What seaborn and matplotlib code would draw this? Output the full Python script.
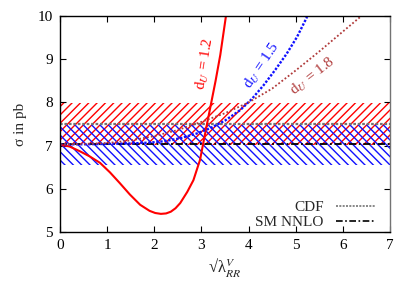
import seaborn as sns
import matplotlib
matplotlib.use("Agg")
from matplotlib import pyplot as plt
from matplotlib.lines import Line2D

# measurement bands (sigma in pb)
band_x = [0, 7]
cdf_value = 7.5
cdf_lo = [7.02, 7.02]
cdf_hi = [7.98, 7.98]
sm_value = 7.03
sm_lo = [6.56, 6.56]
sm_hi = [7.47, 7.47]

# d_U = 1.2
x_12 = [0, 0.2, 0.42, 0.63, 0.85, 1.06, 1.27, 1.48, 1.7, 1.9, 2.02, 2.14, 2.25, 2.35, 2.45,
        2.55, 2.7, 2.83, 2.97, 3.1, 3.2, 3.3, 3.4, 3.52]
y_12 = [7.02, 6.98, 6.87, 6.75, 6.6, 6.38, 6.13, 5.87, 5.63, 5.49, 5.44, 5.42, 5.43, 5.47, 5.55,
        5.67, 5.93, 6.2, 6.67, 7.4, 7.95, 8.5, 9.1, 10.0]
# d_U = 1.5
x_15 = [0, 0.5, 1.0, 1.5, 1.91, 2.2, 2.55, 2.9, 3.18, 3.5, 3.82, 4.07, 4.32, 4.57, 4.81, 5.03, 5.24]
y_15 = [7.03, 7.03, 7.04, 7.05, 7.07, 7.1, 7.17, 7.28, 7.4, 7.58, 7.82, 8.08, 8.4, 8.76, 9.13, 9.52, 9.98]
# d_U = 1.8
x_18 = [0, 0.5, 1.0, 1.5, 2.0, 2.5, 3.0, 3.5, 4.0, 4.5, 5.0, 5.5, 6.0, 6.37]
y_18 = [7.03, 7.04, 7.06, 7.12, 7.22, 7.36, 7.55, 7.75, 8.0, 8.32, 8.74, 9.18, 9.64, 9.98]

sns.set_style("ticks")
plt.rcParams["font.family"] = ["Liberation Serif", "DejaVu Serif"]
plt.rcParams["mathtext.fontset"] = "stix"
plt.rcParams["hatch.linewidth"] = 1.0

red = "#ff0000"
blue = "#1010ff"
brown = "#b03a3a"
fs = 11

fig = plt.figure(figsize=(4.15, 2.91), dpi=100)
ax = fig.add_axes([0.1446, 0.2027, 0.7952, 0.7423])

# hatched bands
ax.fill_between(band_x, cdf_lo, cdf_hi, facecolor="none", edgecolor=red, hatch="////", linewidth=0)
ax.fill_between(band_x, sm_lo, sm_hi, facecolor="none", edgecolor=blue, hatch="\\\\\\\\", linewidth=0)

ax.axhline(cdf_value, color="0.45", lw=1.6, ls=(0, (1.2, 0.8)))
ax.axhline(sm_value, color="black", lw=1.3, ls=(0, (4, 1.5, 1, 1.5)))

sns.lineplot(x=x_12, y=y_12, ax=ax, color=red, lw=1.5)
sns.lineplot(x=x_15, y=y_15, ax=ax, color=blue, lw=1.7, ls=(0, (1, 0.7)))
sns.lineplot(x=x_18, y=y_18, ax=ax, color=brown, lw=1.3, ls=(0, (1, 1.2)))

ax.text(3.07, 8.9, r"d$_U$ = 1.2", color=red, rotation=81, fontsize=fs,
        ha="center", va="center")
ax.text(4.28, 8.85, r"d$_U$ = 1.5", color=blue, rotation=56, fontsize=fs,
        ha="center", va="center")
ax.text(5.36, 8.6, r"d$_U$ = 1.8", color=brown, rotation=38, fontsize=fs,
        ha="center", va="center")

ax.set_xlim(0, 7)
ax.set_ylim(5, 10)
ax.set_xticks(range(0, 8))
ax.set_yticks(range(5, 11))
ax.tick_params(direction="in", top=True, right=True, length=4, width=0.8,
               labelsize=fs, pad=5, colors="black")
for s in ax.spines.values():
    s.set_linewidth(1.0)
    s.set_color("black")
ax.spines["right"].set_color("0.45")

ax.set_ylabel("σ in pb", fontsize=fs, labelpad=8)
ax.set_xlabel(r"√λ$_{RR}^{V}$", fontsize=12, labelpad=3)

handles = [Line2D([], [], color="0.45", lw=1.2, ls=(0, (1.2, 0.8))),
           Line2D([], [], color="black", lw=1.2, ls=(0, (4, 1.5, 1, 1.5)))]
ax.legend(handles, ["CDF", "SM NNLO"], loc="lower right", frameon=False,
          markerfirst=False, fontsize=fs, handlelength=2.6, handletextpad=0.8,
          labelspacing=0.1, borderaxespad=0.0, bbox_to_anchor=(0.975, -0.015))

fig.savefig("out.png", dpi=100)
